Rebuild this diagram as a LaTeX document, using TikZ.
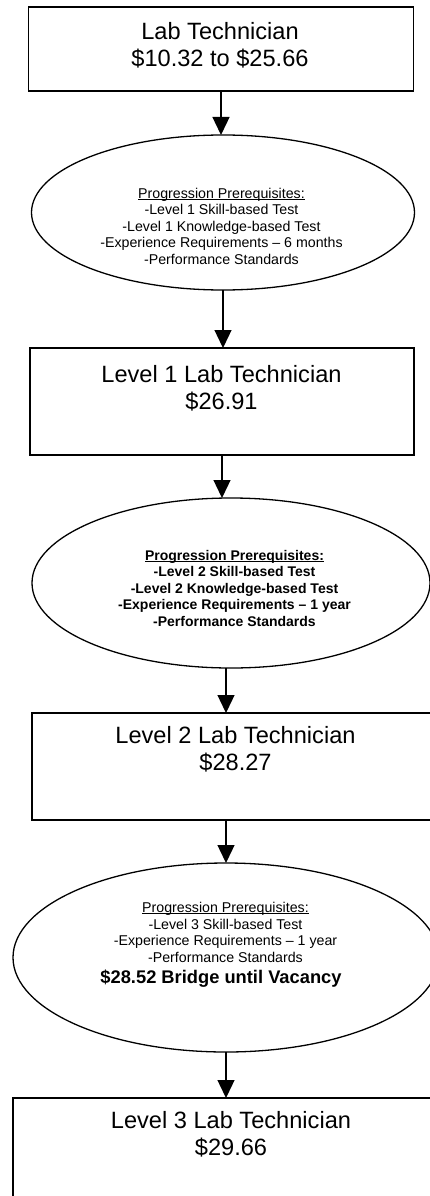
\documentclass[tikz,border=0pt]{standalone}
\usepackage{fontspec}
\setmainfont{Liberation Sans}
\usetikzlibrary{arrows.meta,shapes.geometric}
\newsavebox{\myulbox}
\newcommand\myul[1]{\sbox{\myulbox}{#1}\rlap{\rule[-1.8pt]{\wd\myulbox}{0.9pt}}\usebox{\myulbox}}
\tikzset{
  bx/.style={draw, rectangle, line width=1.4pt, inner sep=0pt, outer sep=0pt},
  el/.style={draw, ellipse, line width=1.3pt, inner sep=0pt, outer sep=0pt},
  bigtxt/.style={font=\fontsize{23.6}{27}\selectfont, align=center, inner sep=0pt, anchor=north},
  smalltxt/.style={font=\fontsize{14.2}{16.5}\selectfont, align=center, inner sep=0pt, anchor=north},
  boldtxt/.style={font=\fontsize{14}{16.5}\selectfont\bfseries, align=center, inner sep=0pt, anchor=north},
  arr/.style={line width=1.3pt, -{Triangle[width=17pt,length=18pt]}},
}
\begin{document}
\begin{tikzpicture}[x=1pt,y=-1pt]
\useasboundingbox (0,0) rectangle (430,1196);
\clip (0,0) rectangle (430,1196);
\fill[white] (0,0) rectangle (430,1196);

% boxes
\node[bx, minimum width=385pt, minimum height=84pt] (b1) at (221,49) {};
\node[bx, minimum width=384pt, minimum height=107pt] (b2) at (222,401.5) {};
\node[bx, minimum width=406pt, minimum height=107pt] (b3) at (235,766.5) {};
\node[bx, minimum width=436pt, minimum height=107pt] (b4) at (231,1151.5) {};

% ellipses
\node[el, minimum width=383pt, minimum height=155pt] (e1) at (223,212.5) {};
\node[el, minimum width=398pt, minimum height=170pt] (e2) at (231,583) {};
\node[el, minimum width=426pt, minimum height=189pt] (e3) at (226,957.5) {};

% box texts
\node[bigtxt] (t1) at (220,22) {Lab Technician\\\$10.32 to \$25.66};
\node[bigtxt] (t2) at (221.5,365) {Level 1 Lab Technician\\\$26.91};
\node[bigtxt] (t3) at (235.5,726.5) {Level 2 Lab Technician\\\$28.27};
\node[bigtxt] (t4) at (231,1111.5) {Level 3 Lab Technician\\\$29.66};

% ellipse texts
\node[smalltxt] (p1) at (221.5,188) {\myul{Progression Prerequisites:}\\-Level 1 Skill-based Test\\-Level 1 Knowledge-based Test\\-Experience Requirements – 6 months\\-Performance Standards};
\node[boldtxt] (p2) at (234.5,550) {\myul{Progression Prerequisites:}\\-Level 2 Skill-based Test\\-Level 2 Knowledge-based Test\\-Experience Requirements – 1 year\\-Performance Standards};
\node[smalltxt] (p3) at (225.5,902) {\myul{Progression Prerequisites:}\\-Level 3 Skill-based Test\\-Experience Requirements – 1 year\\-Performance Standards};
\node[font=\fontsize{18.3}{21}\selectfont\bfseries, inner sep=0pt, anchor=base] (p3b) at (221,983) {\$28.52 Bridge until Vacancy};

% connectors
\draw[arr] (b1.south) -- (b1.south |- e1.north);
\draw[arr] (e1.south) -- (e1.south |- b2.north);
\draw[arr] (b2.south) -- (b2.south |- e2.north);
\draw[arr] (e3.north |- e2.south) -- (e3.north |- b3.north);
\draw[arr] (e3.north |- b3.south) -- (e3.north);
\draw[arr] (e3.south) -- (e3.south |- b4.north);
\end{tikzpicture}
\end{document}
